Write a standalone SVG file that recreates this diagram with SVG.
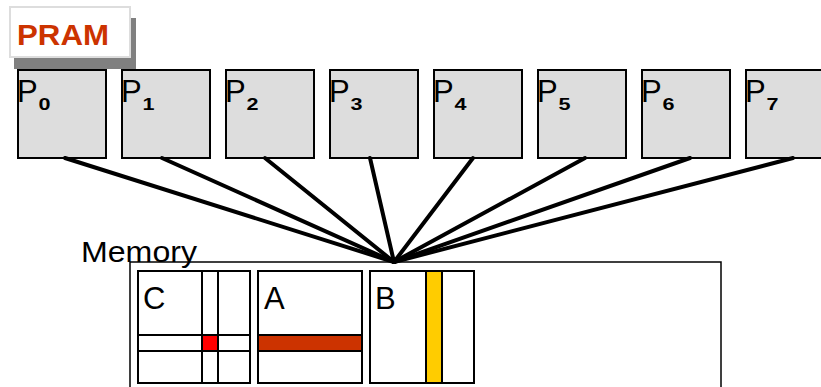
<svg xmlns="http://www.w3.org/2000/svg" width="821" height="387" viewBox="0 0 821 387">
<style>
.proc{fill:#dddddd;stroke:#000;stroke-width:2}
.pl{font-family:"Liberation Sans",Arial,sans-serif;font-size:31px;fill:#000}
.sub{font-family:"Liberation Sans",Arial,sans-serif;font-size:17px;font-weight:bold;fill:#000}
.mat{fill:#fff;stroke:#000;stroke-width:2}
.ln{stroke:#000;stroke-width:2;fill:none}
.ml{font-family:"Liberation Sans",Arial,sans-serif;font-size:31px;fill:#000}
.conn{stroke:#000;stroke-width:4;stroke-linecap:round}
</style>
<rect width="821" height="387" fill="#fff"/>
<g id="title">
<rect x="14" y="18" width="122" height="51" fill="#808080"/>
<rect x="10" y="7" width="120" height="50" fill="#fff" stroke="#dddddd" stroke-width="2"/>
<text x="17" y="45" font-family="Liberation Sans,Arial,sans-serif" font-size="30" font-weight="bold" fill="#cc3300" textLength="92" lengthAdjust="spacingAndGlyphs">PRAM</text>
</g>
<g id="p0"><rect class="proc" x="18" y="70" width="88" height="88"/><text class="pl" x="17" y="102">P</text><text class="sub" x="38.5" y="109.5" textLength="12" lengthAdjust="spacingAndGlyphs">0</text></g>
<g id="p1"><rect class="proc" x="122" y="70" width="88" height="88"/><text class="pl" x="121" y="102">P</text><text class="sub" x="142.5" y="109.5" textLength="12" lengthAdjust="spacingAndGlyphs">1</text></g>
<g id="p2"><rect class="proc" x="226" y="70" width="88" height="88"/><text class="pl" x="225" y="102">P</text><text class="sub" x="246.5" y="109.5" textLength="12" lengthAdjust="spacingAndGlyphs">2</text></g>
<g id="p3"><rect class="proc" x="330" y="70" width="88" height="88"/><text class="pl" x="329" y="102">P</text><text class="sub" x="350.5" y="109.5" textLength="12" lengthAdjust="spacingAndGlyphs">3</text></g>
<g id="p4"><rect class="proc" x="434" y="70" width="88" height="88"/><text class="pl" x="433" y="102">P</text><text class="sub" x="454.5" y="109.5" textLength="12" lengthAdjust="spacingAndGlyphs">4</text></g>
<g id="p5"><rect class="proc" x="538" y="70" width="88" height="88"/><text class="pl" x="537" y="102">P</text><text class="sub" x="558.5" y="109.5" textLength="12" lengthAdjust="spacingAndGlyphs">5</text></g>
<g id="p6"><rect class="proc" x="642" y="70" width="88" height="88"/><text class="pl" x="641" y="102">P</text><text class="sub" x="662.5" y="109.5" textLength="12" lengthAdjust="spacingAndGlyphs">6</text></g>
<g id="p7"><rect class="proc" x="746" y="70" width="88" height="88"/><text class="pl" x="745" y="102">P</text><text class="sub" x="766.5" y="109.5" textLength="12" lengthAdjust="spacingAndGlyphs">7</text></g>
<g id="connectors">
<line class="conn" x1="65" y1="158" x2="394" y2="262"/>
<line class="conn" x1="162" y1="158" x2="394" y2="262"/>
<line class="conn" x1="265" y1="158" x2="394" y2="262"/>
<line class="conn" x1="370" y1="158" x2="394" y2="262"/>
<line class="conn" x1="473" y1="158" x2="394" y2="262"/>
<line class="conn" x1="585" y1="158" x2="394" y2="262"/>
<line class="conn" x1="690" y1="158" x2="394" y2="262"/>
<line class="conn" x1="793" y1="158" x2="394" y2="262"/>
</g>
<g id="memory">
<rect x="130" y="262" width="591" height="140" fill="none" stroke="#000" stroke-width="1.5"/>
<text x="81" y="262" font-family="Liberation Sans,Arial,sans-serif" font-size="30" fill="#000" textLength="116" lengthAdjust="spacingAndGlyphs">Memory</text>
</g>
<g id="matC">
<rect class="mat" x="138" y="271" width="112" height="112"/>
<rect x="202" y="335" width="16" height="16" fill="#ff0000"/>
<line class="ln" x1="202" y1="271" x2="202" y2="383"/>
<line class="ln" x1="218" y1="271" x2="218" y2="383"/>
<line class="ln" x1="138" y1="335" x2="250" y2="335"/>
<line class="ln" x1="138" y1="351" x2="250" y2="351"/>
<text class="ml" x="143" y="309">C</text>
</g>
<g id="matA">
<rect class="mat" x="258" y="271" width="104" height="112"/>
<rect x="258" y="335" width="104" height="16" fill="#cc3300" stroke="#000" stroke-width="2"/>
<text class="ml" x="264" y="309">A</text>
</g>
<g id="matB">
<rect class="mat" x="370" y="271" width="104" height="112"/>
<rect x="426" y="271" width="16" height="112" fill="#ffcc00" stroke="#000" stroke-width="2"/>
<text class="ml" x="375" y="309">B</text>
</g>
</svg>
